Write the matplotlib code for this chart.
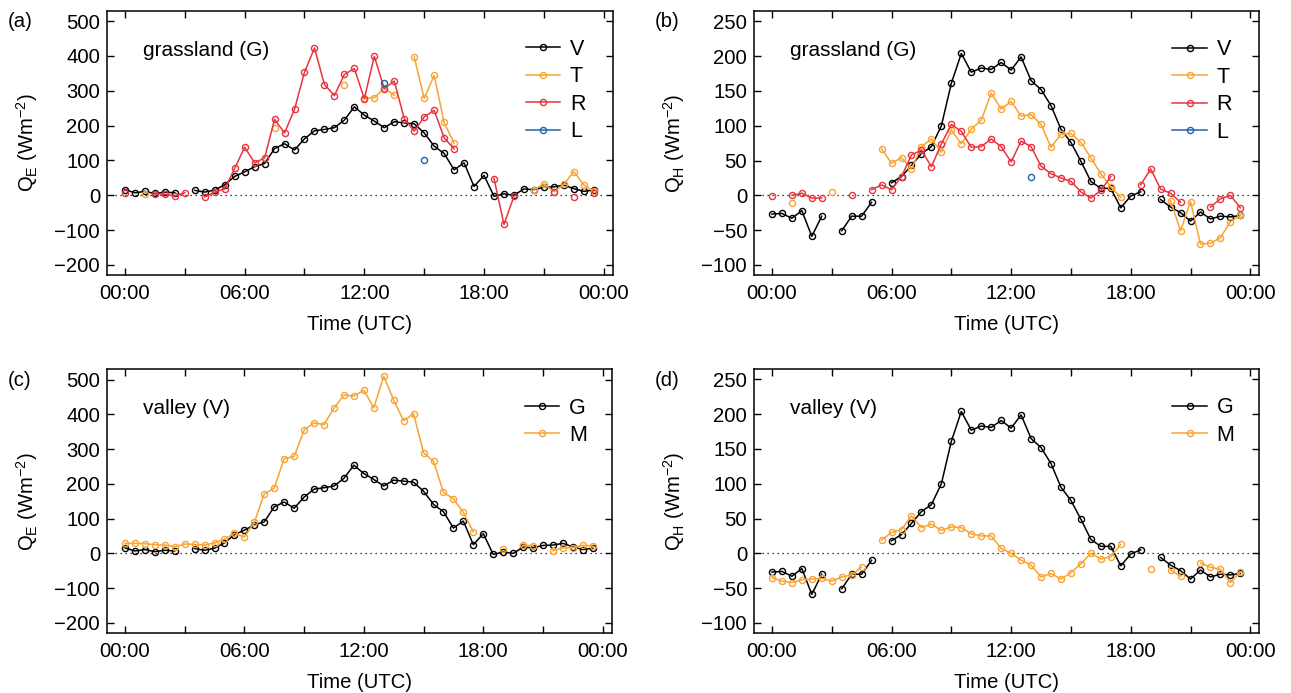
import numpy as np
import matplotlib
matplotlib.use("Agg")
import matplotlib.pyplot as plt
from matplotlib.ticker import FixedLocator, FixedFormatter

plt.rcParams['font.family'] = ['Liberation Sans', 'DejaVu Sans']
plt.rcParams['mathtext.fontset'] = 'custom'
plt.rcParams['mathtext.rm'] = 'Liberation Sans'
plt.rcParams['mathtext.it'] = 'Liberation Sans:italic'
plt.rcParams['mathtext.bf'] = 'Liberation Sans:bold'

nan = np.nan

# half-hourly time axis (hours UTC)
hours = np.arange(48) * 0.5


def series(pairs):
    arr = np.full(48, np.nan)
    for i, v in pairs.items():
        arr[i] = v
    return arr


# ---- Latent heat flux QE (W m-2) ----
QE_V = [16, 7, 11, 5, 9, 7, nan, 14, 9, 15, 30, 54, 67, 82, 91, 134, 148, 130,
        162, 185, 189, 194, 216, 254, 230, 213, 194, 211, 208, 205, 179, 141,
        120, 73, 93, 25, 57, -3, 4, 0, 18, 16, 23, 24, 29, 19, 11, 15]
QE_T = series({2: 3, 15: 194, 22: 318, 24: 278, 25: 280, 26: 308, 27: 287,
               29: 397, 30: 278, 31: 344, 32: 209, 33: 149,
               41: 16, 42: 33, 43: 10, 44: 31, 45: 68, 46: 30, 47: 11})
QE_R = series({0: 5, 3: 4, 4: 3, 5: -2, 6: 7, 8: -5, 9: 9, 10: 18, 11: 77,
               12: 138, 13: 93, 14: 107, 15: 218, 16: 179, 17: 247, 18: 353,
               19: 423, 20: 318, 21: 286, 22: 347, 23: 364, 24: 277, 25: 399,
               26: 306, 27: 328, 28: 220, 29: 184, 30: 225, 31: 244, 32: 165,
               33: 133, 37: 48, 38: -84, 39: -3, 43: 10, 45: -5, 47: 6})
QE_L = series({26: 321, 30: 101})
QE_M = [29, 29, 28, 25, 24, 19, 27, 26, 24, 30, 41, 58, 47, 90, 171, 188, 273,
        279, 355, 376, 371, 418, 456, 453, 470, 419, 510, 441, 382, 402, 290,
        265, 176, 157, 118, 62, nan, nan, 12, nan, 24, 22, nan, 8, 16, 17, 23, 21]

# ---- Sensible heat flux QH (W m-2) ----
QH_V = [-27, -26, -33, -22, -59, -30, nan, -51, -30, -30, -10, nan, 18, 27, 43,
        60, 70, 100, 161, 204, 177, 183, 181, 191, 180, 199, 165, 152, 129, 95,
        76, 49, 20, 10, 10, -18, -1, 5, nan, -6, -17, -25, -37, -24, -34, -30,
        -31, -29]
QH_T = series({2: -11, 6: 5, 11: 67, 12: 46, 13: 54, 14: 38, 15: 70, 16: 81,
               17: 62, 18: 94, 19: 74, 20: 95, 21: 108, 22: 147, 23: 124,
               24: 135, 25: 114, 26: 116, 27: 102, 28: 69, 29: 88, 30: 89,
               31: 76, 32: 54, 33: 31, 34: 12, 35: -3, 40: -8, 41: -51, 42: -9,
               43: -70, 44: -69, 45: -61, 46: -38, 47: -29})
QH_R = series({0: -1, 2: 0, 3: 3, 4: -4, 5: -4, 8: 1, 10: 8, 11: 15, 12: 8,
               13: 27, 14: 58, 15: 65, 16: 41, 17: 74, 18: 102, 19: 92, 20: 69,
               21: 70, 22: 81, 23: 70, 24: 48, 25: 78, 26: 70, 27: 42, 28: 31,
               29: 25, 30: 20, 31: 5, 32: -4, 33: 7, 34: 27, 37: 15, 38: 38,
               39: 9, 40: 3, 41: -10, 44: -17, 45: -5, 46: 0, 47: -18})
QH_L = series({26: 26})
QH_M = [-35, -40, -42, -38, -37, -36, -40, -34, -31, -20, nan, 19, 30, 34, 54,
        37, 42, 33, 38, 37, 28, 25, 25, 7, 0, -10, -17, -34, -29, -37, -28,
        -15, 0, -8, -5, 13, nan, nan, -22, nan, -24, -33, nan, -14, -20, -23,
        -42, -27]

xtick_major = [0, 6, 12, 18, 24]
xtick_labels = ["00:00", "06:00", "12:00", "18:00", "00:00"]
xtick_minor = [3, 9, 15, 21]
QE_ticks = [-200, -100, 0, 100, 200, 300, 400, 500]
QH_ticks = [-100, -50, 0, 50, 100, 150, 200, 250]

C_BLACK = '#000000'
C_ORANGE = '#F9A332'
C_RED = '#E8343E'
C_BLUE = '#1F62B0'

W, H = 1291, 693
fig = plt.figure(figsize=(W / 100, H / 100), dpi=100)


def add_ax(l, r, t, b):
    return fig.add_axes([l / W, 1 - b / H, (r - l) / W, (b - t) / H])


FS = 14.6


def style(ax, yticks, ylim, ylabel):
    ax.set_xlim(-0.9, 24.45)
    ax.set_ylim(*ylim)
    ax.xaxis.set_major_locator(FixedLocator(xtick_major))
    ax.xaxis.set_major_formatter(FixedFormatter(xtick_labels))
    ax.xaxis.set_minor_locator(FixedLocator(xtick_minor))
    ax.set_yticks(yticks)
    ax.tick_params(which='both', direction='in', top=True, right=True,
                   length=5, width=1.0, labelsize=FS, pad=6)
    ax.tick_params(axis='y', pad=5)
    for s in ax.spines.values():
        s.set_linewidth(1.1)
    ax.hlines(0, -0.5, 24.0, colors='black', linestyles=(0, (1, 3)), lw=0.9)
    ax.set_xlabel("Time (UTC)", fontsize=FS, labelpad=9)
    ax.set_ylabel(ylabel, fontsize=FS)
    ax.yaxis.set_label_coords(-0.132, 0.5)


def pl(ax, y, c, label):
    ax.plot(hours, y, '-o', color=c, lw=1.1, ms=4.4, mfc='none', mew=1.0,
            label=label)


def leg(ax):
    ax.legend(loc='upper left', bbox_to_anchor=(0.828, 0.893), frameon=False,
              fontsize=15.5, handlelength=1.6, handletextpad=0.45,
              labelspacing=0.3, borderpad=0, borderaxespad=0)


QE_LABEL = r"Q$_\mathrm{E}$ (Wm$^{\mathrm{-2}}$)"
QH_LABEL = r"Q$_\mathrm{H}$ (Wm$^{\mathrm{-2}}$)"

ax_a = add_ax(107, 612.7, 10.7, 275.3)
ax_b = add_ax(754, 1259.3, 11, 275.3)
ax_c = add_ax(107, 611.7, 369.3, 633.3)
ax_d = add_ax(754, 1259.3, 369, 633.3)

TFS = 15

# (a)
style(ax_a, QE_ticks, (-230, 530), QE_LABEL)
pl(ax_a, QE_V, C_BLACK, 'V')
pl(ax_a, QE_T, C_ORANGE, 'T')
pl(ax_a, QE_R, C_RED, 'R')
pl(ax_a, QE_L, C_BLUE, 'L')
ax_a.text(0.072, 0.851, "grassland (G)", transform=ax_a.transAxes,
          fontsize=TFS, va='center', ha='left')
leg(ax_a)

# (b)
style(ax_b, QH_ticks, (-115, 265), QH_LABEL)
pl(ax_b, QH_V, C_BLACK, 'V')
pl(ax_b, QH_T, C_ORANGE, 'T')
pl(ax_b, QH_R, C_RED, 'R')
pl(ax_b, QH_L, C_BLUE, 'L')
ax_b.text(0.071, 0.851, "grassland (G)", transform=ax_b.transAxes,
          fontsize=TFS, va='center', ha='left')
leg(ax_b)

# (c)
style(ax_c, QE_ticks, (-230, 530), QE_LABEL)
pl(ax_c, QE_V, C_BLACK, 'G')
pl(ax_c, QE_M, C_ORANGE, 'M')
ax_c.text(0.072, 0.852, "valley (V)", transform=ax_c.transAxes,
          fontsize=TFS, va='center', ha='left')
leg(ax_c)

# (d)
style(ax_d, QH_ticks, (-115, 265), QH_LABEL)
pl(ax_d, QH_V, C_BLACK, 'G')
pl(ax_d, QH_M, C_ORANGE, 'M')
ax_d.text(0.071, 0.852, "valley (V)", transform=ax_d.transAxes,
          fontsize=TFS, va='center', ha='left')
leg(ax_d)

for lab, x, y in [("(a)", 8, 21.7), ("(b)", 655, 21.7),
                  ("(c)", 8, 380), ("(d)", 655, 380)]:
    fig.text(x / W, 1 - y / H, lab, fontsize=FS, ha='left', va='center')

fig.savefig("out.png", dpi=100)
